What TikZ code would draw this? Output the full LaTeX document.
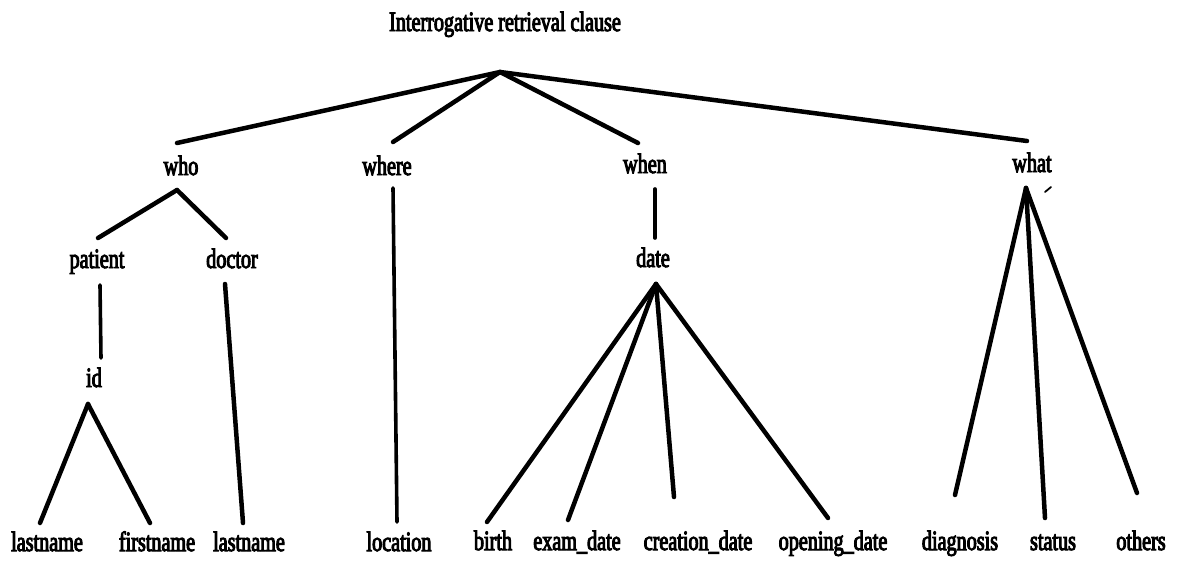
\documentclass[tikz,border=0pt]{standalone}
\usepackage{fontspec}
\newfontfamily\lblfont[FakeStretch=0.72,FakeBold=3.5]{Liberation Serif}
\begin{document}
\begin{tikzpicture}[x=1pt,y=-1pt,
  lbl/.style={font={\fontsize{28}{30}\lblfont}, inner sep=0pt, anchor=base},
  edge/.style={line width=4.5pt, line cap=round, line join=round},
  thinedge/.style={line width=3.6pt, line cap=round}]
\useasboundingbox (0,0) rectangle (1178,563);

% labels (placed on their baselines)
\node[lbl] (root) at (505,31) {Interrogative retrieval clause};
\node[lbl] (who) at (181,175) {who};
\node[lbl] (where) at (387,175) {where};
\node[lbl] (when) at (645,173) {when};
\node[lbl] (what) at (1032,172) {what};
\node[lbl] (patient) at (97,268) {patient};
\node[lbl] (doctor) at (232,268) {doctor};
\node[lbl] (date) at (653,267) {date};
\node[lbl] (id) at (94,387) {id};
\node[lbl] (lastnameA) at (47,551) {lastname};
\node[lbl] (firstname) at (157,551) {firstname};
\node[lbl] (lastnameB) at (249,551) {lastname};
\node[lbl] (location) at (399,551) {location};
\node[lbl] (birth) at (493,550) {birth};
\node[lbl] (examdate) at (577,550) {exam\_date};
\node[lbl] (creationdate) at (698,550) {creation\_date};
\node[lbl] (openingdate) at (833,550) {opening\_date};
\node[lbl] (diagnosis) at (960,550) {diagnosis};
\node[lbl] (status) at (1053,550) {status};
\node[lbl] (others) at (1141,550) {others};

% junctions and line ends
\coordinate (rootJ) at (500,72);
\coordinate (whoIn) at (177,143);
\coordinate (whereIn) at (393,142);
\coordinate (whenIn) at (638,143);
\coordinate (whatIn) at (1027,141);
\coordinate (whoJ) at (177,190);
\coordinate (patientIn) at (98,238);
\coordinate (doctorIn) at (226,238);
\coordinate (patientOut) at (100,285);
\coordinate (idIn) at (101,358);
\coordinate (idJ) at (88,404);
\coordinate (lastnameAIn) at (40,523);
\coordinate (firstnameIn) at (150,523);
\coordinate (doctorOut) at (225,284);
\coordinate (lastnameBIn) at (243,523);
\coordinate (whereOut) at (393,188);
\coordinate (locationIn) at (397,522);
\coordinate (whenOut) at (655,189);
\coordinate (dateIn) at (655,238);
\coordinate (dateJ) at (656,284);
\coordinate (birthIn) at (487,522);
\coordinate (examIn) at (568,520);
\coordinate (creationIn) at (674,497);
\coordinate (openingIn) at (828,518);
\coordinate (whatJ) at (1026,188);
\coordinate (diagnosisIn) at (955,495);
\coordinate (statusIn) at (1045,518);
\coordinate (othersIn) at (1137,493);
\coordinate (tickA) at (1045,192);
\coordinate (tickB) at (1051,187);

% tree edges
\draw[edge] (rootJ) -- (whoIn);
\draw[edge] (rootJ) -- (whereIn);
\draw[edge] (rootJ) -- (whenIn);
\draw[edge] (rootJ) -- (whatIn);

\draw[edge] (whoJ) -- (patientIn);
\draw[edge] (whoJ) -- (doctorIn);
\draw[thinedge] (patientOut) -- (idIn);
\draw[edge] (idJ) -- (lastnameAIn);
\draw[edge] (idJ) -- (firstnameIn);
\draw[edge] (doctorOut) -- (lastnameBIn);

\draw[thinedge] (whereOut) -- (locationIn);

\draw[thinedge] (whenOut) -- (dateIn);
\draw[edge] (dateJ) -- (birthIn);
\draw[edge] (dateJ) -- (examIn);
\draw[edge] (dateJ) -- (creationIn);
\draw[edge] (dateJ) -- (openingIn);

\draw[edge] (whatJ) -- (diagnosisIn);
\draw[edge] (whatJ) -- (statusIn);
\draw[edge] (whatJ) -- (othersIn);

\draw[line width=1.8pt, line cap=round] (tickA) -- (tickB);
\end{tikzpicture}
\end{document}
